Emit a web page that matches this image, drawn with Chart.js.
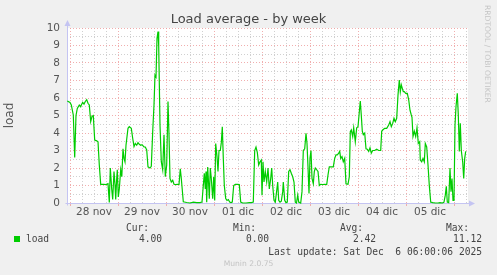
<!DOCTYPE html>
<html lang="it">
<head>
<meta charset="UTF-8">
<title>Load average - by week</title>
<script src="https://cdn.jsdelivr.net/npm/chart.js"></script>
<style>
    body { margin: 0; background: #f0f0f0; }
    #wrap { position: relative; width: 497px; height: 275px; overflow: hidden; }
    #chartCanvas { position: absolute; left: 0; top: 0; }
    .t { position: absolute; font-family: 'DejaVu Sans Mono', monospace; font-size: 9.6px; line-height: 12px; color: #444; white-space: pre; }
    .swatch { position: absolute; left: 14px; top: 236px; width: 6px; height: 6px; background: #00cc00; }
    .credit { position: absolute; font-family: 'DejaVu Sans', sans-serif; color: #c4c4c4; white-space: nowrap; }
</style>
</head>
<body>
<div id="wrap">
    <canvas id="chartCanvas" width="497" height="275"></canvas>
    <div class="credit" style="left:482px; top:5px; font-size:7.6px; line-height:10px; transform-origin:0 0; transform:translate(10px,0) rotate(90deg);">RRDTOOL / TOBI OETIKER</div>
    <div class="swatch"></div>
    <div class="t" style="left:26px; top:233px;">load</div>
    <div class="t" style="left:126px; top:222px;">Cur:</div>
    <div class="t" style="left:233px; top:222px;">Min:</div>
    <div class="t" style="left:340px; top:222px;">Avg:</div>
    <div class="t" style="left:446px; top:222px;">Max:</div>
    <div class="t" style="right:335px; top:233px;">4.00</div>
    <div class="t" style="right:228px; top:233px;">0.00</div>
    <div class="t" style="right:121px; top:233px;">2.42</div>
    <div class="t" style="right:15px; top:233px;">11.12</div>
    <div class="t" style="right:15px; top:246px;">Last update: Sat Dec  6 06:00:06 2025</div>
    <div class="credit" style="left:0; width:497px; text-align:center; top:259px; font-size:7.6px; line-height:10px;">Munin 2.0.75</div>
</div>

<script>
    // hours since 28 nov 00:00, one value per reading
    const hours = [
        -1.35, 0, 0.65, 1.65, 2.35, 3, 3.65, 4.65, 5.35, 5.65, 6.35, 7, 7.65, 8.35, 9, 9.65, 10.35, 11, 11.65, 12.35,
        13.35, 14, 14.65, 15.35, 16.65, 18, 19, 19.65, 20.15, 20.85, 21.35, 22, 22.5, 22.85, 23.35, 23.65, 24.15, 24.65,
        25.35, 25.9, 26.5, 27, 27.5,
        28, 29, 29.65, 30.65, 31.35, 32, 32.65, 33.35, 34, 34.65, 35.35, 36, 37, 37.65, 38.35, 39, 40, 40.65, 41.35, 42,
        42.5, 43, 43.5, 44, 44.35, 45, 45.65, 46.35, 47, 47.65, 48.35, 49, 49.5, 50, 50.65, 51.35, 52, 53, 53.65, 54.5,
        55.15, 55.65,
        56.65, 58.35, 60, 61.65, 63.35, 65, 66, 66.65, 67.15, 67.65, 68, 68.35, 68.85, 69.35, 69.65, 70.15, 70.65, 71.35,
        71.85, 72.35, 72.85, 73.5, 74, 74.5, 75.15, 75.65, 76.15, 76.65, 77.15, 77.85, 78.5, 79.15, 79.85, 80.5, 81.15,
        81.85, 82.65, 83.65, 84.65,
        85.35, 86.35, 88, 89.65, 90.65, 91.65, 92.35, 93, 93.65, 94.35, 95, 95.65, 96, 96.5, 97, 97.65, 98.35, 99, 99.65,
        100.35, 100.85, 101.35, 102, 102.65, 103.35, 103.85, 104.35, 105, 105.65, 106.35, 106.65, 107.35, 108, 108.65,
        109.35, 110, 110.65, 111.35, 112, 112.65, 113.25,
        113.85, 114.35, 115.35, 116, 116.65, 117.35, 118, 118.5, 119, 119.5, 120, 120.5, 121, 121.65, 122.15, 122.65,
        123.35, 124, 124.65, 125.35, 126.35, 127.35, 128.35, 129, 129.65, 130.65, 131.65, 132.35, 133, 133.65, 134.35,
        134.85, 135.35, 136, 136.65, 137.35, 138, 139, 139.65, 140.15, 140.65, 141.35, 141.85, 142.65,
        143.35, 144, 144.65, 145.15, 145.65, 146.15, 146.65, 147.35, 148, 148.65, 149.35, 150, 150.65, 151.35, 152.35,
        153.35, 154.35, 155.35, 155.85, 156.35, 157.35, 158.35, 159.35, 160, 160.65, 161.35, 162, 162.65, 163.35, 164,
        164.65, 165.15, 165.65, 166.15, 166.65, 167.15, 167.85, 168.65, 169.35, 170, 170.65, 171, 171.5,
        172.15, 172.85, 173.5, 174.15, 174.85, 175.15, 175.85, 176.5, 177.15, 177.65, 178.35, 179, 179.65, 180.35,
        181.35, 182.65, 184, 185, 186.35, 187, 187.65, 188.15, 188.65, 189.35, 190, 190.5, 191, 191.5, 192, 192.5, 193,
        193.65, 194.15, 194.65, 195.15, 195.65, 196.35, 196.85, 197.35, 197.85
    ];
    const load = [
        5.83, 5.75, 5.6, 5.03, 2.6, 5.0, 5.4, 5.6, 5.5, 5.6, 5.75, 5.65, 5.8, 5.9, 5.7, 5.6, 4.65, 4.95, 5.0, 3.6,
        3.55, 3.5, 2.17, 1.07, 1.07, 1.05, 1.1, 0.03, 2.0, 0.8, 0.2, 1.8, 1.05, 0.2, 1.4, 1.9, 0.35, 0.8,
        1.9, 1.5, 3.1, 2.55, 2.35,
        3.3, 4.27, 4.36, 4.27, 3.7, 3.22, 3.4, 3.3, 3.45, 3.35, 3.3, 3.33, 3.2, 3.2, 3.03, 2.07, 2.0, 2.1, 4.07, 5.6,
        7.3, 7.2, 9.4, 9.8, 9.0, 4.46, 2.36, 1.9, 3.9, 1.5, 2.17, 5.8, 3.9, 1.4, 1.2, 1.3, 1.07, 1.05, 1.07, 1.05,
        1.95, 1.4,
        0.07, 0.03, 0, 0.05, 0.02, 0.02, 0.05, 1.0, 1.7, 0.8, 1.8, 0.05, 2.05, 1.0, 0.25, 2.0, 1.4, 0.25,
        1.5, 0.15, 3.4, 2.65, 1.8, 3.0, 3.0, 3.45, 4.36, 2.55, 1.0, 0.25, 0.15, 0.2, 0.05, 0.02, 0.05,
        1.0, 1.07, 1.07, 1.05,
        0.05, 0, 0, 0.02, 0.02, 0.05, 3.0, 3.2, 2.9, 2.17, 2.35, 2.45, 0.45, 2.35, 1.2, 1.8, 1.2, 2.0, 0.8,
        1.4, 2.0, 1.0, 0.15, 0.05, 0.7, 1.2, 0.15, 0.05, 0.1, 0.65, 1.2, 0.15, 0.02, 0.05,
        1.8, 1.9, 1.7, 1.5, 1.2, 0.05, 0,
        0.45, 0.05, 0, 0.65, 3.0, 3.1, 3.98, 3.4, 2.05, 0.55, 2.55, 3.0, 1.4, 1.1, 1.8, 2.0,
        1.9, 1.8, 1.0, 1.07, 1.05, 1.07, 1.05, 1.6, 2.07, 2.07, 2.07, 2.55, 2.75, 2.75, 2.85,
        2.95, 2.55, 2.65, 2.35, 2.55, 1.1, 1.07, 1.5, 4.07, 4.17, 3.8, 4.3, 3.5,
        4.3, 4.36, 5.2, 5.83, 5.0, 4.1, 3.9, 4.0, 3.1, 3.07, 2.95, 3.15, 2.85, 3.0, 3.0,
        3.07, 3.0, 3.0, 4.1, 4.17, 4.27, 4.27, 4.46, 4.65, 4.36, 4.55, 4.84, 4.65, 4.84, 6.17,
        7.03, 6.36, 6.75, 6.55, 6.36, 6.36, 6.27, 6.27, 5.9, 5.3, 5.03, 4.9, 3.8,
        4.1, 3.8, 4.3, 3.4, 3.5, 2.45, 2.35, 2.55, 2.35, 3.4, 3.2, 2.17, 1.0, 0.05,
        0.02, 0, 0, 0.02, 0, 0.05, 0.45, 0.95, 0.05, 0.02, 2.0, 0.65, 1.4, 0.15, 0.15, 4.46, 5.5,
        6.27, 5.03, 2.95, 4.55, 3.0, 2.35, 1.4, 2.55, 2.95
    ];
    const dayLabels = ['28 nov', '29 nov', '30 nov', '01 dic', '02 dic', '03 dic', '04 dic', '05 dic'];
    const xMin = -1.5, xMax = 199;

    const RED = 'rgba(238, 160, 160, 0.85)';
    const GREY = 'rgba(200, 200, 200, 0.85)';
    const AXIS = '#c4c4f2';

    Chart.defaults.font.family = 'DejaVu Sans';

    // white plot area, axis lines with arrows
    const muninFrame = {
        id: 'muninFrame',
        beforeDraw(chart) {
            const { ctx, chartArea: a } = chart;
            ctx.save();
            ctx.fillStyle = '#ffffff';
            ctx.fillRect(a.left, a.top, a.right - a.left, a.bottom - a.top);
            ctx.restore();
        },
        beforeDatasetsDraw(chart) {
            const { ctx, chartArea: a } = chart;
            const x0 = Math.round(a.left) + 0.5;
            const y0 = Math.round(a.bottom) + 0.5;
            ctx.save();
            ctx.strokeStyle = AXIS;
            ctx.fillStyle = AXIS;
            ctx.lineWidth = 1;
            ctx.beginPath();
            ctx.moveTo(x0, y0 + 2);
            ctx.lineTo(x0, a.top - 4);
            ctx.moveTo(x0 - 2, y0);
            ctx.lineTo(a.right + 3, y0);
            ctx.stroke();
            ctx.beginPath();
            ctx.moveTo(x0, a.top - 8);
            ctx.lineTo(x0 - 3, a.top - 2);
            ctx.lineTo(x0 + 3, a.top - 2);
            ctx.closePath();
            ctx.fill();
            ctx.beginPath();
            ctx.moveTo(a.right + 7, y0);
            ctx.lineTo(a.right + 1, y0 - 3);
            ctx.lineTo(a.right + 1, y0 + 3);
            ctx.closePath();
            ctx.fill();
            ctx.restore();
        }
    };

    new Chart(document.getElementById('chartCanvas'), {
        type: 'line',
        data: {
            datasets: [{
                label: 'load',
                data: hours.map((h, i) => ({ x: h, y: load[i] })),
                borderColor: '#00cc00',
                borderWidth: 1.2,
                pointRadius: 0,
                tension: 0,
                fill: false,
                clip: false
            }]
        },
        options: {
            responsive: false,
            animation: false,
            events: [],
            layout: { padding: 0 },
            plugins: {
                legend: { display: false },
                tooltip: { enabled: false },
                title: {
                    display: true,
                    text: 'Load average - by week',
                    color: '#444',
                    font: { size: 13, weight: 'normal' },
                    padding: { top: 12, bottom: 0.4 }
                }
            },
            scales: {
                x: {
                    type: 'linear',
                    min: xMin,
                    max: xMax,
                    afterBuildTicks(scale) {
                        const t = [];
                        for (let v = 0; v <= 198; v += 6) t.push({ value: v });
                        scale.ticks = t;
                    },
                    afterFit(scale) { scale.height = 72; },
                    border: { display: false, dash: [1, 2] },
                    grid: {
                        color: c => (c.tick && c.tick.value % 24 === 0) ? RED : GREY,
                        tickColor: c => (c.tick && c.tick.value % 24 === 0) ? RED : 'rgba(0,0,0,0)',
                        tickLength: 3,
                        drawTicks: true
                    },
                    ticks: {
                        autoSkip: false,
                        maxRotation: 0,
                        padding: 0,
                        color: '#555',
                        font: { size: 10.5 },
                        callback: v => (v % 24 === 12) ? dayLabels[(v - 12) / 24] : ''
                    }
                },
                y: {
                    min: 0,
                    max: 10,
                    afterFit(scale) { scale.width = 67; },
                    border: { display: false, dash: [1, 2] },
                    grid: {
                        color: c => (c.tick && Number.isInteger(c.tick.value)) ? RED : GREY,
                        drawTicks: false
                    },
                    ticks: {
                        stepSize: 0.5,
                        autoSkip: false,
                        padding: 7,
                        color: '#555',
                        font: { size: 10.5 },
                        callback: v => Number.isInteger(v) ? v : ''
                    },
                    title: {
                        display: true,
                        text: 'load',
                        color: '#555',
                        font: { size: 12 },
                        padding: { top: 3, bottom: 0 }
                    }
                },
                yr: {
                    position: 'right',
                    min: 0,
                    max: 10,
                    afterFit(scale) { scale.width = 29; },
                    border: { display: false },
                    grid: { display: false },
                    ticks: { display: false }
                }
            }
        },
        plugins: [muninFrame]
    });
</script>
</body>
</html>
